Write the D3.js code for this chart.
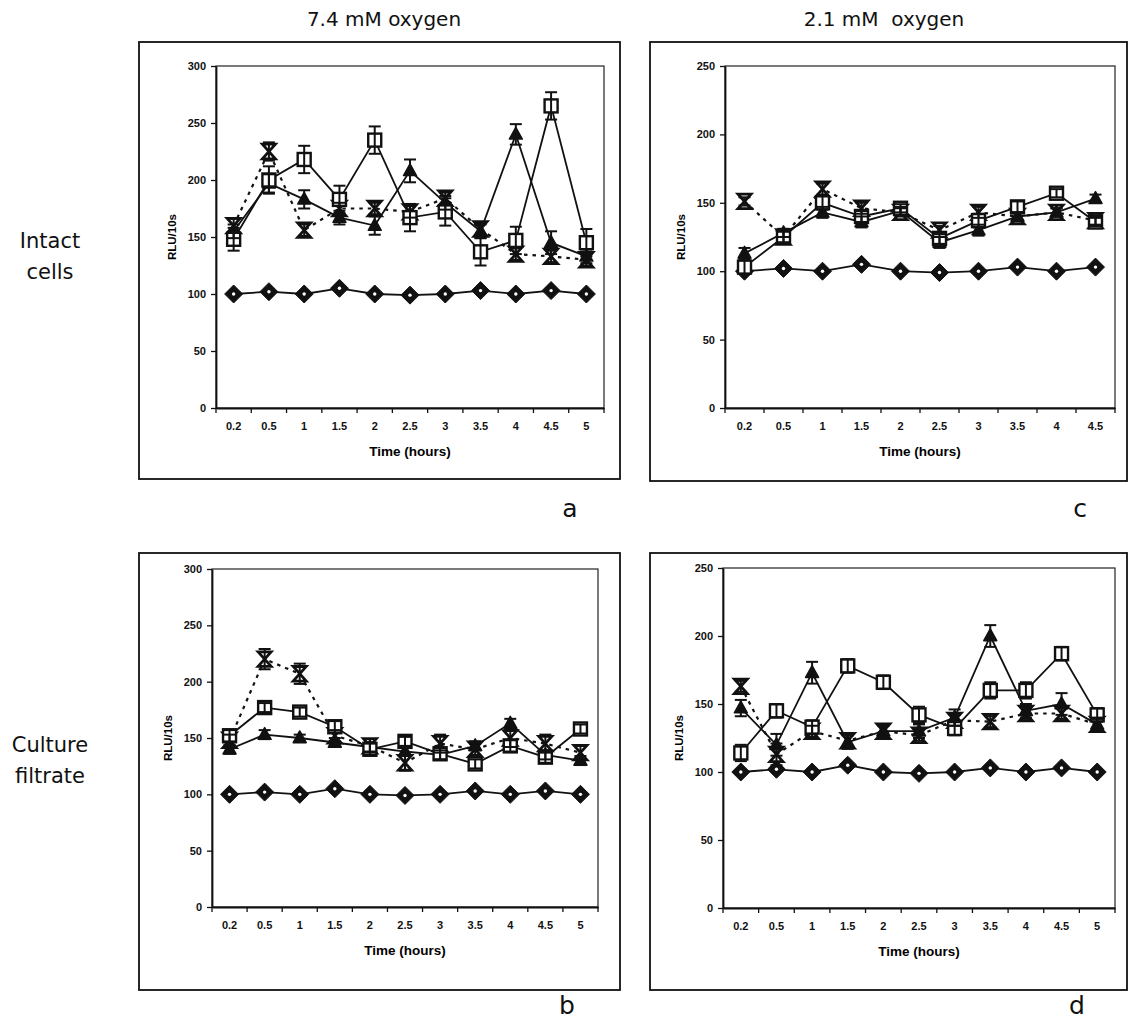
<!DOCTYPE html>
<html>
<head>
<meta charset="utf-8">
<script src="https://cdn.jsdelivr.net/npm/d3@7"></script>
<style>
  html, body { margin: 0; padding: 0; background: #fff; }
  svg { display: block; }
  .tick text { font-family: "Liberation Sans", Arial, sans-serif; font-weight: bold; font-size: 11px; fill: #111; }
</style>
</head>
<body>
<svg id="chart" width="1131" height="1022"></svg>
<script>
// ---------------- DATA ----------------
const cats11 = ["0.2","0.5","1","1.5","2","2.5","3","3.5","4","4.5","5"];
const cats10 = ["0.2","0.5","1","1.5","2","2.5","3","3.5","4","4.5"];
const yTicks300 = [0,50,100,150,200,250,300];
const yTicks250 = [0,50,100,150,200,250];

// Panel a: intact cells, 7.4 mM oxygen
const aControl  = [100,102,100,105,100,99,100,103,100,103,100];
const aSquare   = [148,200,218,183,235,167,172,137,147,265,145];
const aTriangle = [155,197,183,167,160,208,180,155,240,145,133];
const aCross    = [160,225,156,175,175,172,184,157,135,133,130];
const aSquareErr   = [10,12,12,12,12,12,12,12,12,12,12];
const aTriangleErr = [6,8,8,6,8,10,6,6,9,10,6];
const aCrossErr    = [6,8,5,5,5,5,5,5,5,5,5];

// Panel c: intact cells, 2.1 mM oxygen
const cControl  = [100,102,100,105,100,99,100,103,100,103];
const cSquare   = [103,125,150,140,146,124,137,147,157,136];
const cTriangle = [113,128,143,136,144,121,130,140,143,153];
const cCross    = [151,125,160,146,143,130,143,140,143,137];
const cSquareErr   = [5,4,5,4,3,4,5,4,3,3];
const cTriangleErr = [4,3,4,4,3,4,4,3,3,3];
const cCrossErr    = [3,4,4,4,3,3,4,3,3,3];

// Panel b: culture filtrate, 7.4 mM oxygen
const bControl  = [100,102,100,105,100,99,100,103,100,103,100];
const bSquare   = [152,177,173,160,140,147,136,127,143,133,158];
const bTriangle = [140,153,150,146,142,138,135,143,163,135,130];
const bCross    = [148,220,207,152,143,128,145,140,150,145,137];
const bSquareErr   = [5,4,4,5,5,4,5,4,5,5,4];
const bTriangleErr = [4,4,3,4,4,4,4,4,4,4,4];
const bCrossErr    = [5,9,9,5,6,7,8,5,8,8,6];

// Panel d: culture filtrate, 2.1 mM oxygen
const dControl  = [100,102,100,105,100,99,100,103,100,103,100];
const dSquare   = [114,145,133,178,166,142,132,160,160,187,142];
const dTriangle = [147,120,173,122,130,130,140,200,145,150,135];
const dCross    = [163,113,130,123,130,127,138,137,143,143,135];
const dSquareErr   = [6,5,5,5,5,6,5,6,6,5,5];
const dTriangleErr = [6,8,8,5,5,5,6,8,5,8,5];
const dCrossErr    = [4,8,4,4,4,4,4,4,4,4,4];

// ---------------- DRAW ----------------
const svg = d3.select("#chart");
const FONT_TXT = "'DejaVu Sans', Verdana, sans-serif";
const FONT_AX = "'Liberation Sans', Arial, sans-serif";

function hourglass(s) {
  const w = s * 0.5, h = s * 0.56;
  return `M${-w},${-h}L${w},${-h}L${-w},${h}L${w},${h}Z`;
}
function diamond(r) {
  return `M0,${-r}L${r},0L0,${r}L${-r},0Z`;
}
function triangle(s) {
  const h = s * 0.9;
  return `M0,${-h * 0.6}L${s / 2},${h * 0.4}L${-s / 2},${h * 0.4}Z`;
}

function drawPanel(o) {
  const g = svg.append("g");
  // outer frame
  g.append("rect").attr("x", o.box[0]).attr("y", o.box[1])
    .attr("width", o.box[2] - o.box[0]).attr("height", o.box[3] - o.box[1])
    .attr("fill", "none").attr("stroke", "#111").attr("stroke-width", 1.8);

  const x = d3.scaleBand().domain(o.cats).range([o.plot[0], o.plot[2]]);
  const y = d3.scaleLinear().domain([0, o.yMax]).range([o.plot[3], o.plot[1]]);
  const cx = (i) => x(o.cats[i]) + x.bandwidth() / 2;

  // plot area border
  g.append("rect").attr("x", o.plot[0]).attr("y", o.plot[1])
    .attr("width", o.plot[2] - o.plot[0]).attr("height", o.plot[3] - o.plot[1])
    .attr("fill", "none").attr("stroke", "#222").attr("stroke-width", 1.2);

  // y axis
  const ya = g.append("g").attr("transform", `translate(${o.plot[0]},0)`)
    .call(d3.axisLeft(y).tickValues(o.yTicks).tickSize(5).tickSizeOuter(0).tickPadding(5));
  ya.select(".domain").attr("stroke", "#111").attr("stroke-width", 1.8);
  ya.selectAll(".tick line").attr("stroke", "#111").attr("stroke-width", 1.3);

  // x axis
  const xa = g.append("g").attr("transform", `translate(0,${o.plot[3]})`)
    .call(d3.axisBottom(x).tickSize(0).tickSizeOuter(0).tickPadding(14));
  xa.select(".domain").attr("stroke", "#111").attr("stroke-width", 1.8);
  // ticks at category boundaries
  const bounds = o.cats.map(c => x(c)).concat([x.range()[1]]);
  g.append("g").selectAll("line").data(bounds).join("line")
    .attr("x1", d => d).attr("x2", d => d)
    .attr("y1", o.plot[3]).attr("y2", o.plot[3] + 5)
    .attr("stroke", "#111").attr("stroke-width", 1.3);

  // axis titles
  g.append("text")
    .attr("transform", `translate(${o.plot[0] - 44},${(o.plot[1] + o.plot[3]) / 2}) rotate(-90)`)
    .attr("text-anchor", "middle").attr("dy", "0.35em")
    .style("font-family", FONT_AX).style("font-weight", "bold").style("font-size", "11.5px")
    .text("RLU/10s");
  g.append("text")
    .attr("x", (o.plot[0] + o.plot[2]) / 2).attr("y", o.plot[3] + 48)
    .attr("text-anchor", "middle")
    .style("font-family", FONT_AX).style("font-weight", "bold").style("font-size", "13.5px")
    .text("Time (hours)");

  const line = d3.line().x((d, i) => cx(i)).y(d => y(d));

  const series = [
    { v: o.control, dash: null, kind: "diamond", err: null },
    { v: o.cross, dash: "3.5,5", kind: "cross", err: o.crossErr },
    { v: o.triangle, dash: null, kind: "triangle", err: o.triangleErr },
    { v: o.square, dash: null, kind: "square", err: o.squareErr }
  ];

  // lines
  series.forEach(s => {
    g.append("path").datum(s.v).attr("d", line)
      .attr("fill", "none").attr("stroke", "#111")
      .attr("stroke-width", s.dash ? 2.2 : 1.8)
      .attr("stroke-dasharray", s.dash);
  });

  // markers
  series.forEach(s => {
    const mg = g.append("g");
    s.v.forEach((val, i) => {
      const tx = cx(i), ty = y(val);
      if (s.kind === "diamond") {
        mg.append("path").attr("d", diamond(9))
          .attr("transform", `translate(${tx},${ty})`).attr("fill", "#111")
          .attr("stroke", "#111").attr("stroke-width", 1);
        mg.append("circle").attr("cx", tx).attr("cy", ty).attr("r", 1.7).attr("fill", "#fff");
      } else if (s.kind === "triangle") {
        mg.append("path").attr("d", triangle(13))
          .attr("transform", `translate(${tx},${ty})`)
          .attr("fill", "#111").attr("stroke", "#111").attr("stroke-width", 1.5)
          .attr("stroke-linejoin", "round");
      } else if (s.kind === "square") {
        mg.append("rect").attr("x", tx - 6.5).attr("y", ty - 6.5).attr("width", 13).attr("height", 13)
          .attr("fill", "#fff").attr("stroke", "#111").attr("stroke-width", 2.4);
      } else if (s.kind === "cross") {
        mg.append("path").attr("d", hourglass(13))
          .attr("transform", `translate(${tx},${ty})`)
          .attr("fill", "#fff").attr("stroke", "#111").attr("stroke-width", 2.8)
          .attr("stroke-linejoin", "miter");
      }
    });
  });

  // error bars (drawn over markers)
  series.forEach(s => {
    if (!s.err) return;
    const eg = g.append("g").attr("stroke", "#111").attr("stroke-width", 2);
    s.v.forEach((val, i) => {
      const e = s.err[i], tx = cx(i);
      const y1 = y(val + e), y2 = y(val - e);
      eg.append("line").attr("x1", tx).attr("x2", tx).attr("y1", y1).attr("y2", y2);
      eg.append("line").attr("x1", tx - 6).attr("x2", tx + 6).attr("y1", y1).attr("y2", y1);
      eg.append("line").attr("x1", tx - 6).attr("x2", tx + 6).attr("y1", y2).attr("y2", y2);
    });
  });

  // panel letter
  g.append("text").attr("x", o.letterPos[0]).attr("y", o.letterPos[1])
    .attr("text-anchor", "middle")
    .style("font-family", FONT_TXT).style("font-size", "25px").attr("fill", "#111")
    .text(o.letter);
}

drawPanel({ cats: cats11, yMax: 300, yTicks: yTicks300,
  box: [139, 42, 620, 479], plot: [216, 66, 604, 408],
  control: aControl, square: aSquare, triangle: aTriangle, cross: aCross,
  squareErr: aSquareErr, triangleErr: aTriangleErr, crossErr: aCrossErr,
  letter: "a", letterPos: [570, 517] });

drawPanel({ cats: cats10, yMax: 250, yTicks: yTicks250,
  box: [650, 42, 1127, 481], plot: [725, 66, 1115, 408],
  control: cControl, square: cSquare, triangle: cTriangle, cross: cCross,
  squareErr: cSquareErr, triangleErr: cTriangleErr, crossErr: cCrossErr,
  letter: "c", letterPos: [1080, 517] });

drawPanel({ cats: cats11, yMax: 300, yTicks: yTicks300,
  box: [139, 553, 620, 990], plot: [212, 569, 598, 907],
  control: bControl, square: bSquare, triangle: bTriangle, cross: bCross,
  squareErr: bSquareErr, triangleErr: bTriangleErr, crossErr: bCrossErr,
  letter: "b", letterPos: [567, 1014] });

drawPanel({ cats: cats11, yMax: 250, yTicks: yTicks250,
  box: [650, 553, 1127, 990], plot: [723, 568, 1115, 908],
  control: dControl, square: dSquare, triangle: dTriangle, cross: dCross,
  squareErr: dSquareErr, triangleErr: dTriangleErr, crossErr: dCrossErr,
  letter: "d", letterPos: [1077, 1014] });

// column titles
svg.append("text").attr("x", 384).attr("y", 26).attr("text-anchor", "middle")
  .style("font-family", FONT_TXT).style("font-size", "20px").attr("fill", "#111")
  .style("white-space", "pre").text("7.4 mM oxygen");
svg.append("text").attr("x", 884).attr("y", 26).attr("text-anchor", "middle")
  .style("font-family", FONT_TXT).style("font-size", "20px").attr("fill", "#111")
  .style("white-space", "pre").text("2.1 mM  oxygen");

// row labels
[["Intact", 248], ["cells", 279], ["Culture", 752], ["filtrate", 783]].forEach(([t, yy]) => {
  svg.append("text").attr("x", 50).attr("y", yy).attr("text-anchor", "middle")
    .style("font-family", FONT_TXT).style("font-size", "21px").attr("fill", "#111")
    .text(t);
});
</script>
</body>
</html>
